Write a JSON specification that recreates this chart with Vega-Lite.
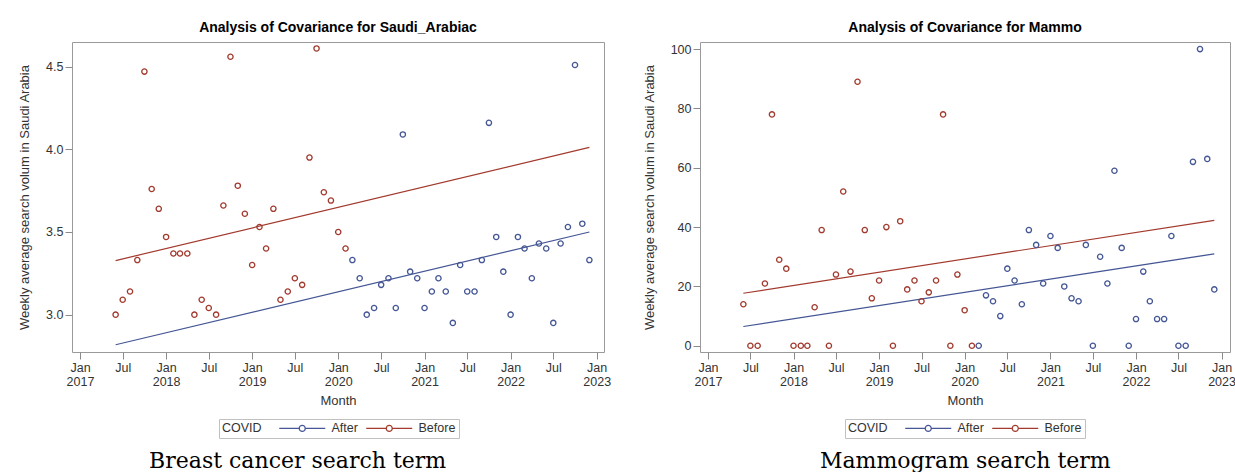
{
  "$schema": "https://vega.github.io/schema/vega-lite/v6.json",
  "background": "white",
  "padding": {"left": 18, "top": 20, "right": 0, "bottom": 0},
  "spacing": 30,
  "datasets": {
    "leftPts": [
      {"month": "2017-06-01", "value": 3.0, "COVID": "Before"},
      {"month": "2017-07-01", "value": 3.09, "COVID": "Before"},
      {"month": "2017-08-01", "value": 3.14, "COVID": "Before"},
      {"month": "2017-09-01", "value": 3.33, "COVID": "Before"},
      {"month": "2017-10-01", "value": 4.47, "COVID": "Before"},
      {"month": "2017-11-01", "value": 3.76, "COVID": "Before"},
      {"month": "2017-12-01", "value": 3.64, "COVID": "Before"},
      {"month": "2018-01-01", "value": 3.47, "COVID": "Before"},
      {"month": "2018-02-01", "value": 3.37, "COVID": "Before"},
      {"month": "2018-03-01", "value": 3.37, "COVID": "Before"},
      {"month": "2018-04-01", "value": 3.37, "COVID": "Before"},
      {"month": "2018-05-01", "value": 3.0, "COVID": "Before"},
      {"month": "2018-06-01", "value": 3.09, "COVID": "Before"},
      {"month": "2018-07-01", "value": 3.04, "COVID": "Before"},
      {"month": "2018-08-01", "value": 3.0, "COVID": "Before"},
      {"month": "2018-09-01", "value": 3.66, "COVID": "Before"},
      {"month": "2018-10-01", "value": 4.56, "COVID": "Before"},
      {"month": "2018-11-01", "value": 3.78, "COVID": "Before"},
      {"month": "2018-12-01", "value": 3.61, "COVID": "Before"},
      {"month": "2019-01-01", "value": 3.3, "COVID": "Before"},
      {"month": "2019-02-01", "value": 3.53, "COVID": "Before"},
      {"month": "2019-03-01", "value": 3.4, "COVID": "Before"},
      {"month": "2019-04-01", "value": 3.64, "COVID": "Before"},
      {"month": "2019-05-01", "value": 3.09, "COVID": "Before"},
      {"month": "2019-06-01", "value": 3.14, "COVID": "Before"},
      {"month": "2019-07-01", "value": 3.22, "COVID": "Before"},
      {"month": "2019-08-01", "value": 3.18, "COVID": "Before"},
      {"month": "2019-09-01", "value": 3.95, "COVID": "Before"},
      {"month": "2019-10-01", "value": 4.61, "COVID": "Before"},
      {"month": "2019-11-01", "value": 3.74, "COVID": "Before"},
      {"month": "2019-12-01", "value": 3.69, "COVID": "Before"},
      {"month": "2020-01-01", "value": 3.5, "COVID": "Before"},
      {"month": "2020-02-01", "value": 3.4, "COVID": "Before"},
      {"month": "2020-03-01", "value": 3.33, "COVID": "After"},
      {"month": "2020-04-01", "value": 3.22, "COVID": "After"},
      {"month": "2020-05-01", "value": 3.0, "COVID": "After"},
      {"month": "2020-06-01", "value": 3.04, "COVID": "After"},
      {"month": "2020-07-01", "value": 3.18, "COVID": "After"},
      {"month": "2020-08-01", "value": 3.22, "COVID": "After"},
      {"month": "2020-09-01", "value": 3.04, "COVID": "After"},
      {"month": "2020-10-01", "value": 4.09, "COVID": "After"},
      {"month": "2020-11-01", "value": 3.26, "COVID": "After"},
      {"month": "2020-12-01", "value": 3.22, "COVID": "After"},
      {"month": "2021-01-01", "value": 3.04, "COVID": "After"},
      {"month": "2021-02-01", "value": 3.14, "COVID": "After"},
      {"month": "2021-03-01", "value": 3.22, "COVID": "After"},
      {"month": "2021-04-01", "value": 3.14, "COVID": "After"},
      {"month": "2021-05-01", "value": 2.95, "COVID": "After"},
      {"month": "2021-06-01", "value": 3.3, "COVID": "After"},
      {"month": "2021-07-01", "value": 3.14, "COVID": "After"},
      {"month": "2021-08-01", "value": 3.14, "COVID": "After"},
      {"month": "2021-09-01", "value": 3.33, "COVID": "After"},
      {"month": "2021-10-01", "value": 4.16, "COVID": "After"},
      {"month": "2021-11-01", "value": 3.47, "COVID": "After"},
      {"month": "2021-12-01", "value": 3.26, "COVID": "After"},
      {"month": "2022-01-01", "value": 3.0, "COVID": "After"},
      {"month": "2022-02-01", "value": 3.47, "COVID": "After"},
      {"month": "2022-03-01", "value": 3.4, "COVID": "After"},
      {"month": "2022-04-01", "value": 3.22, "COVID": "After"},
      {"month": "2022-05-01", "value": 3.43, "COVID": "After"},
      {"month": "2022-06-01", "value": 3.4, "COVID": "After"},
      {"month": "2022-07-01", "value": 2.95, "COVID": "After"},
      {"month": "2022-08-01", "value": 3.43, "COVID": "After"},
      {"month": "2022-09-01", "value": 3.53, "COVID": "After"},
      {"month": "2022-10-01", "value": 4.51, "COVID": "After"},
      {"month": "2022-11-01", "value": 3.55, "COVID": "After"},
      {"month": "2022-12-01", "value": 3.33, "COVID": "After"}
    ],
    "leftFit": [
      {"month": "2017-06-01", "value": 3.327, "COVID": "Before"},
      {"month": "2022-12-01", "value": 4.012, "COVID": "Before"},
      {"month": "2017-06-01", "value": 2.818, "COVID": "After"},
      {"month": "2022-12-01", "value": 3.5, "COVID": "After"}
    ],
    "rightPts": [
      {"month": "2017-06-01", "value": 14, "COVID": "Before"},
      {"month": "2017-07-01", "value": 0, "COVID": "Before"},
      {"month": "2017-08-01", "value": 0, "COVID": "Before"},
      {"month": "2017-09-01", "value": 21, "COVID": "Before"},
      {"month": "2017-10-01", "value": 78, "COVID": "Before"},
      {"month": "2017-11-01", "value": 29, "COVID": "Before"},
      {"month": "2017-12-01", "value": 26, "COVID": "Before"},
      {"month": "2018-01-01", "value": 0, "COVID": "Before"},
      {"month": "2018-02-01", "value": 0, "COVID": "Before"},
      {"month": "2018-03-01", "value": 0, "COVID": "Before"},
      {"month": "2018-04-01", "value": 13, "COVID": "Before"},
      {"month": "2018-05-01", "value": 39, "COVID": "Before"},
      {"month": "2018-06-01", "value": 0, "COVID": "Before"},
      {"month": "2018-07-01", "value": 24, "COVID": "Before"},
      {"month": "2018-08-01", "value": 52, "COVID": "Before"},
      {"month": "2018-09-01", "value": 25, "COVID": "Before"},
      {"month": "2018-10-01", "value": 89, "COVID": "Before"},
      {"month": "2018-11-01", "value": 39, "COVID": "Before"},
      {"month": "2018-12-01", "value": 16, "COVID": "Before"},
      {"month": "2019-01-01", "value": 22, "COVID": "Before"},
      {"month": "2019-02-01", "value": 40, "COVID": "Before"},
      {"month": "2019-03-01", "value": 0, "COVID": "Before"},
      {"month": "2019-04-01", "value": 42, "COVID": "Before"},
      {"month": "2019-05-01", "value": 19, "COVID": "Before"},
      {"month": "2019-06-01", "value": 22, "COVID": "Before"},
      {"month": "2019-07-01", "value": 15, "COVID": "Before"},
      {"month": "2019-08-01", "value": 18, "COVID": "Before"},
      {"month": "2019-09-01", "value": 22, "COVID": "Before"},
      {"month": "2019-10-01", "value": 78, "COVID": "Before"},
      {"month": "2019-11-01", "value": 0, "COVID": "Before"},
      {"month": "2019-12-01", "value": 24, "COVID": "Before"},
      {"month": "2020-01-01", "value": 12, "COVID": "Before"},
      {"month": "2020-02-01", "value": 0, "COVID": "Before"},
      {"month": "2020-03-01", "value": 0, "COVID": "After"},
      {"month": "2020-04-01", "value": 17, "COVID": "After"},
      {"month": "2020-05-01", "value": 15, "COVID": "After"},
      {"month": "2020-06-01", "value": 10, "COVID": "After"},
      {"month": "2020-07-01", "value": 26, "COVID": "After"},
      {"month": "2020-08-01", "value": 22, "COVID": "After"},
      {"month": "2020-09-01", "value": 14, "COVID": "After"},
      {"month": "2020-10-01", "value": 39, "COVID": "After"},
      {"month": "2020-11-01", "value": 34, "COVID": "After"},
      {"month": "2020-12-01", "value": 21, "COVID": "After"},
      {"month": "2021-01-01", "value": 37, "COVID": "After"},
      {"month": "2021-02-01", "value": 33, "COVID": "After"},
      {"month": "2021-03-01", "value": 20, "COVID": "After"},
      {"month": "2021-04-01", "value": 16, "COVID": "After"},
      {"month": "2021-05-01", "value": 15, "COVID": "After"},
      {"month": "2021-06-01", "value": 34, "COVID": "After"},
      {"month": "2021-07-01", "value": 0, "COVID": "After"},
      {"month": "2021-08-01", "value": 30, "COVID": "After"},
      {"month": "2021-09-01", "value": 21, "COVID": "After"},
      {"month": "2021-10-01", "value": 59, "COVID": "After"},
      {"month": "2021-11-01", "value": 33, "COVID": "After"},
      {"month": "2021-12-01", "value": 0, "COVID": "After"},
      {"month": "2022-01-01", "value": 9, "COVID": "After"},
      {"month": "2022-02-01", "value": 25, "COVID": "After"},
      {"month": "2022-03-01", "value": 15, "COVID": "After"},
      {"month": "2022-04-01", "value": 9, "COVID": "After"},
      {"month": "2022-05-01", "value": 9, "COVID": "After"},
      {"month": "2022-06-01", "value": 37, "COVID": "After"},
      {"month": "2022-07-01", "value": 0, "COVID": "After"},
      {"month": "2022-08-01", "value": 0, "COVID": "After"},
      {"month": "2022-09-01", "value": 62, "COVID": "After"},
      {"month": "2022-10-01", "value": 100, "COVID": "After"},
      {"month": "2022-11-01", "value": 63, "COVID": "After"},
      {"month": "2022-12-01", "value": 19, "COVID": "After"}
    ],
    "rightFit": [
      {"month": "2017-06-01", "value": 17.7, "COVID": "Before"},
      {"month": "2022-12-01", "value": 42.3, "COVID": "Before"},
      {"month": "2017-06-01", "value": 6.5, "COVID": "After"},
      {"month": "2022-12-01", "value": 31.0, "COVID": "After"}
    ]
  },
  "hconcat": [
    {
      "title": {"text": "Breast cancer search term", "orient": "bottom", "anchor": "middle", "font": "DejaVu Serif", "fontSize": 22, "fontWeight": "normal", "color": "#000000", "offset": 12, "dx": -17},
      "vconcat": [
        {
          "width": 532,
          "height": 310,
          "title": {"text": "Analysis of Covariance for Saudi_Arabiac", "anchor": "middle", "offset": 7},
          "layer": [
            {
              "data": {"name": "leftFit"},
              "mark": {"type": "line", "strokeWidth": 1.2},
              "encoding": {
                "x": {"field": "month", "type": "temporal", "scale": {"type": "utc", "domain": [{"year": 2016, "month": 11, "date": 28, "utc": true}, {"year": 2023, "month": 2, "date": 1, "utc": true}]}, "axis": {"title": "Month", "values": [{"year": 2017, "month": 1, "date": 1, "utc": true}, {"year": 2017, "month": 7, "date": 1, "utc": true}, {"year": 2018, "month": 1, "date": 1, "utc": true}, {"year": 2018, "month": 7, "date": 1, "utc": true}, {"year": 2019, "month": 1, "date": 1, "utc": true}, {"year": 2019, "month": 7, "date": 1, "utc": true}, {"year": 2020, "month": 1, "date": 1, "utc": true}, {"year": 2020, "month": 7, "date": 1, "utc": true}, {"year": 2021, "month": 1, "date": 1, "utc": true}, {"year": 2021, "month": 7, "date": 1, "utc": true}, {"year": 2022, "month": 1, "date": 1, "utc": true}, {"year": 2022, "month": 7, "date": 1, "utc": true}, {"year": 2023, "month": 1, "date": 1, "utc": true}], "labelExpr": "utcmonth(datum.value) == 0 ? ['Jan', utcFormat(datum.value, '%Y')] : 'Jul'"}},
                "y": {"field": "value", "type": "quantitative", "scale": {"domain": [2.774, 4.649], "zero": false, "nice": false}, "axis": {"title": "Weekly average search volum in Saudi Arabia", "values": [3.0, 3.5, 4.0, 4.5], "format": ".1f"}},
                "color": {"field": "COVID", "type": "nominal", "scale": {"domain": ["After", "Before"], "range": ["#445694", "#A23A2E"]}, "legend": {"title": "COVID", "orient": "none", "legendX": 147, "legendY": 377}}
              }
            },
            {
              "data": {"name": "leftPts"},
              "mark": {"type": "point", "filled": false, "size": 28, "strokeWidth": 1.3, "opacity": 1},
              "encoding": {
                "x": {"field": "month", "type": "temporal"},
                "y": {"field": "value", "type": "quantitative"},
                "color": {"field": "COVID", "type": "nominal", "legend": {"title": "COVID", "orient": "none", "legendX": 147, "legendY": 377}}
              }
            }
          ]
        }
      ]
    },
    {
      "title": {"text": "Mammogram search term", "orient": "bottom", "anchor": "middle", "font": "DejaVu Serif", "fontSize": 22, "fontWeight": "normal", "color": "#000000", "offset": 12, "dx": 26},
      "vconcat": [
        {
          "width": 530,
          "height": 310,
          "title": {"text": "Analysis of Covariance for Mammo", "anchor": "middle", "offset": 7},
          "layer": [
            {
              "data": {"name": "rightFit"},
              "mark": {"type": "line", "strokeWidth": 1.2},
              "encoding": {
                "x": {"field": "month", "type": "temporal", "scale": {"type": "utc", "domain": [{"year": 2016, "month": 11, "date": 28, "utc": true}, {"year": 2023, "month": 2, "date": 6, "utc": true}]}, "axis": {"title": "Month", "values": [{"year": 2017, "month": 1, "date": 1, "utc": true}, {"year": 2017, "month": 7, "date": 1, "utc": true}, {"year": 2018, "month": 1, "date": 1, "utc": true}, {"year": 2018, "month": 7, "date": 1, "utc": true}, {"year": 2019, "month": 1, "date": 1, "utc": true}, {"year": 2019, "month": 7, "date": 1, "utc": true}, {"year": 2020, "month": 1, "date": 1, "utc": true}, {"year": 2020, "month": 7, "date": 1, "utc": true}, {"year": 2021, "month": 1, "date": 1, "utc": true}, {"year": 2021, "month": 7, "date": 1, "utc": true}, {"year": 2022, "month": 1, "date": 1, "utc": true}, {"year": 2022, "month": 7, "date": 1, "utc": true}, {"year": 2023, "month": 1, "date": 1, "utc": true}], "labelExpr": "utcmonth(datum.value) == 0 ? ['Jan', utcFormat(datum.value, '%Y')] : 'Jul'"}},
                "y": {"field": "value", "type": "quantitative", "scale": {"domain": [-2.1, 102.4], "zero": false, "nice": false}, "axis": {"title": "Weekly average search volum in Saudi Arabia", "values": [0, 20, 40, 60, 80, 100], "format": "d"}},
                "color": {"field": "COVID", "type": "nominal", "scale": {"domain": ["After", "Before"], "range": ["#445694", "#A23A2E"]}, "legend": {"title": "COVID", "orient": "none", "legendX": 145, "legendY": 377}}
              }
            },
            {
              "data": {"name": "rightPts"},
              "mark": {"type": "point", "filled": false, "size": 28, "strokeWidth": 1.3, "opacity": 1},
              "encoding": {
                "x": {"field": "month", "type": "temporal"},
                "y": {"field": "value", "type": "quantitative"},
                "color": {"field": "COVID", "type": "nominal", "legend": {"title": "COVID", "orient": "none", "legendX": 145, "legendY": 377}}
              }
            }
          ]
        }
      ]
    }
  ],
  "resolve": {"scale": {"color": "independent"}},
  "config": {
    "font": "Liberation Sans",
    "view": {"stroke": "#9a9a9a", "strokeWidth": 1},
    "axis": {
      "domain": false,
      "grid": false,
      "tickColor": "#8a8a8a",
      "tickSize": 7,
      "labelPadding": 2,
      "labelFont": "Liberation Sans",
      "labelFontSize": 12.5,
      "labelColor": "#333333",
      "labelLineHeight": 14,
      "labelFlush": false,
      "labelOverlap": false,
      "titleFont": "Liberation Sans",
      "titleFontSize": 13,
      "titleFontWeight": "normal",
      "titleColor": "#333333"
    },
    "axisX": {"titlePadding": 7, "labelAngle": 0, "labelBaseline": "top"},
    "axisY": {"titlePadding": 14},
    "title": {"font": "Liberation Sans", "fontSize": 14, "fontWeight": "bold", "color": "#000000"},
    "legend": {
      "direction": "horizontal",
      "titleOrient": "left",
      "strokeColor": "#c0c0c0",
      "padding": 3,
      "symbolType": "M-7.67,0H-1M1,0H7.67M1,0A1,1 0 1 1 -1,0A1,1 0 1 1 1,0",
      "symbolSize": 36,
      "symbolStrokeWidth": 1.2,
      "symbolFillColor": "transparent",
      "labelFont": "Liberation Sans",
      "labelFontSize": 12.5,
      "labelColor": "#333333",
      "titleFont": "Liberation Sans",
      "titleFontSize": 12.5,
      "titleFontWeight": "normal",
      "titleColor": "#333333",
      "titleBaseline": "middle",
      "titlePadding": 34,
      "labelOffset": 23,
      "columnPadding": 5
    }
  }
}
